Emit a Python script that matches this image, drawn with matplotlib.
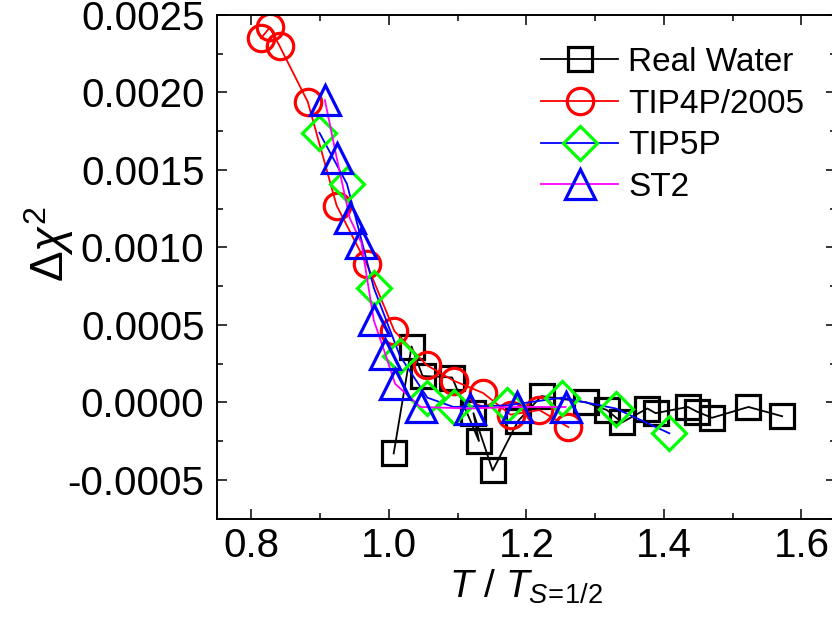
import matplotlib
matplotlib.use("Agg")
import matplotlib.pyplot as plt
from matplotlib.ticker import MultipleLocator

plt.rcParams['font.family'] = ['Liberation Sans', 'DejaVu Sans']
plt.rcParams['mathtext.fontset'] = 'custom'
plt.rcParams['mathtext.rm'] = 'Liberation Sans'
plt.rcParams['mathtext.it'] = 'Liberation Sans:italic'
plt.rcParams['mathtext.bf'] = 'Liberation Sans:bold'

# ---- data ----
real_x = [1.007, 1.033, 1.049, 1.092, 1.131, 1.123, 1.151, 1.188, 1.222, 1.287,
          1.317, 1.339, 1.376, 1.388, 1.435, 1.448, 1.470, 1.523, 1.572]
real_y = [-0.00033, 0.00036, 0.00017, 0.00016, -0.00025, -0.00007, -0.00044, -0.00012,
          0.00004, 0.0, -0.00005, -0.00013, -0.00004, -0.00007, -0.00003, -0.00006,
          -0.00010, -0.00003, -0.00009]

tip4p_x = [0.814, 0.827, 0.841, 0.882, 0.924, 0.968, 1.008, 1.055, 1.094, 1.137,
           1.177, 1.219, 1.261]
tip4p_y = [0.00235, 0.00242, 0.00230, 0.00194, 0.00127, 0.00089, 0.00046, 0.00024,
           0.00014, 0.00006, -0.00008, -0.00005, -0.00016]

tip5p_x = [0.899, 0.939, 0.978, 1.016, 1.056, 1.094, 1.172, 1.252, 1.330, 1.408]
tip5p_y = [0.00174, 0.00141, 0.00074, 0.00030, 0.00003, -0.00003, -0.00002, 0.00003,
           -0.00004, -0.00020]

st2_x = [0.907, 0.924, 0.943, 0.960, 0.978, 0.995, 1.009, 1.046, 1.118, 1.186, 1.257]
st2_y = [0.00195, 0.00158, 0.00119, 0.00103, 0.00053, 0.00031, 0.00012, -0.00003,
         -0.00004, -0.00003, -0.00003]

labels = ["Real Water", "TIP4P/2005", "TIP5P", "ST2"]
xticks = [0.8, 1.0, 1.2, 1.4, 1.6]
yticks = [-0.0005, 0.0, 0.0005, 0.0010, 0.0015, 0.0020, 0.0025]

fig = plt.figure(figsize=(8.32, 6.28), dpi=100)
ax = fig.add_axes([217/832, 1-518.5/628, 618.75/832, 503.5/628])

mew = 2.3
lw = 1.3
ax.plot(real_x, real_y, color='black', lw=lw, marker='s', ms=17, mfc='none',
        mec='black', mew=mew, label=labels[0])
ax.plot(tip4p_x, tip4p_y, color='#ff0000', lw=lw, marker='o', ms=19, mfc='none',
        mec='#ff0000', mew=mew, label=labels[1])
ax.plot(tip5p_x, tip5p_y, color='#0000ff', lw=lw, marker='D', ms=17.5, mfc='none',
        mec='#00ff00', mew=mew, label=labels[2])
ax.plot(st2_x, st2_y, color='#ff00ff', lw=lw, marker='^', ms=21, mfc='none',
        mec='#0000ff', mew=mew, label=labels[3])

ax.set_xlim(0.75, 1.65)
ax.set_ylim(-0.00075, 0.0025)
ax.set_xticks(xticks)
ax.set_xticklabels([f"{v:.1f}" for v in xticks])
ax.set_yticks(yticks)
ax.set_yticklabels([f"{v:.4f}" for v in yticks])
ax.xaxis.set_minor_locator(MultipleLocator(0.1))
ax.yaxis.set_minor_locator(MultipleLocator(0.00025))

ax.tick_params(which='both', direction='in', top=True, right=True, width=1.1)
ax.tick_params(which='major', length=7.5, labelsize=29)
ax.tick_params(which='minor', length=4)
ax.tick_params(axis='y', which='major', pad=9)
ax.tick_params(axis='x', which='major', pad=6)
for s in ax.spines.values():
    s.set_linewidth(1.4)

ax.set_ylabel(r'$\Delta\chi^2$', fontsize=33)
ax.yaxis.set_label_coords(-0.228, 0.545)
ax.set_xlabel(r'$T\ /\ T_{S\!=\!\mathrm{1/2}}$', fontsize=28, labelpad=2)

leg = ax.legend(loc='upper left', bbox_to_anchor=(540.7/832, 0.925),
                bbox_transform=fig.transFigure, frameon=False, fontsize=24,
                handlelength=2.33, handletextpad=0.3, labelspacing=0.32,
                borderpad=0, borderaxespad=0)

fig.savefig('out.png', dpi=100)
